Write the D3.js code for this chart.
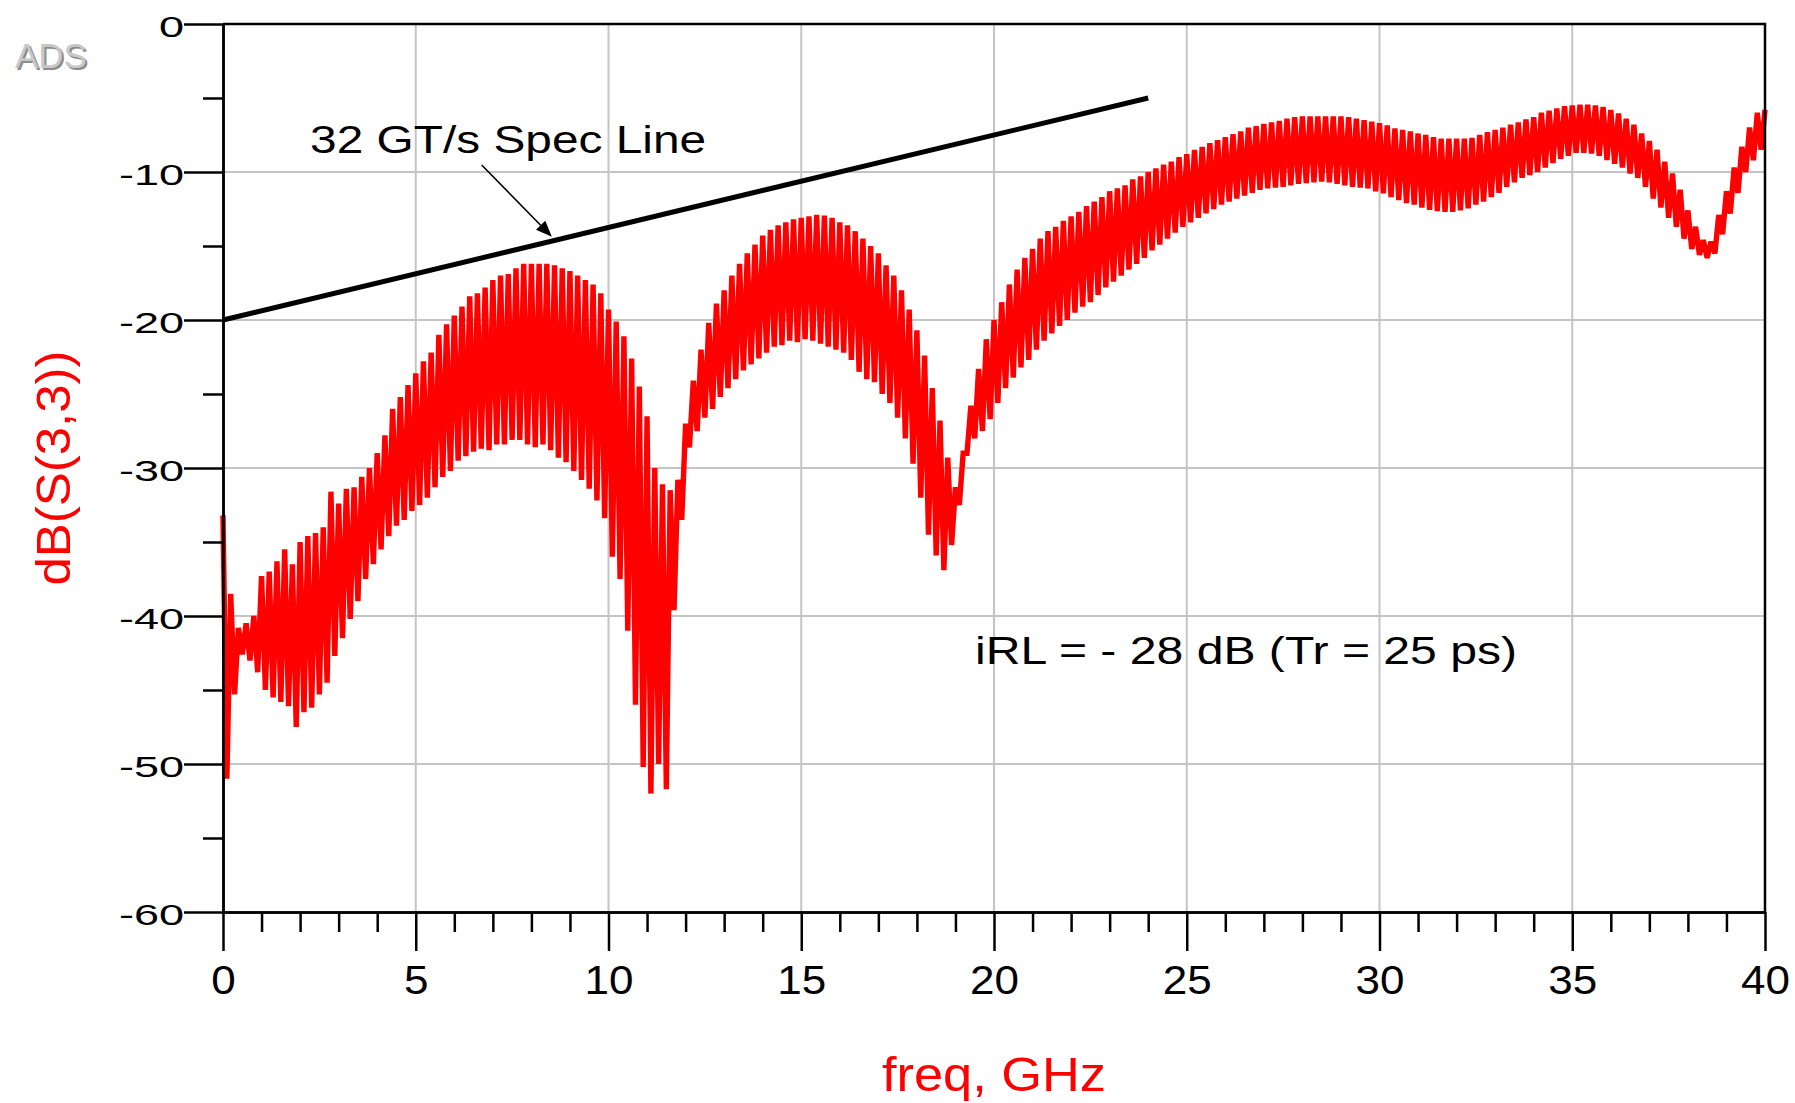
<!DOCTYPE html>
<html>
<head>
<meta charset="utf-8">
<title>dB(S(3,3))</title>
<style>
  body { margin: 0; background: #fff; }
  text { font-family: "Liberation Sans", Arial, sans-serif; }
</style>
</head>
<body>
<svg width="1795" height="1103"></svg>
<script src="https://d3js.org/d3.v7.min.js"></script>
<script>
  // ripple peaks of the trace, one every sweepStep GHz starting at 0 (dB)
  var sweepStep = 0.2;
  var peakDb = [
    -33.2, -38.5, -40.8, -40.5, -40.0,   -37.3, -37.0, -36.3, -35.5, -36.5,
    -35.0, -34.6, -34.4, -34.0, -31.6,   -32.4, -31.4, -31.3, -30.6, -30.0,
    -29.0, -27.8, -26.0, -25.2, -24.4,   -23.6, -22.8, -22.2, -21.0, -20.3,
    -19.7, -19.1, -18.4, -18.2, -17.8,   -17.3, -17.0, -16.9, -16.5, -16.2,
    -16.2, -16.2, -16.2, -16.3, -16.5,   -16.7, -17.0, -17.3, -17.6, -18.2,
    -19.3, -20.1, -21.1, -22.6, -24.5,   -26.5, -30.0, -31.1, -31.5, -30.8,
    -27.0, -24.1, -22.0, -20.2, -18.9,   -18.0, -17.0, -16.2, -15.5, -14.9,
    -14.3, -13.9, -13.6, -13.4, -13.2,   -13.1, -13.0, -12.9, -12.95, -13.1,
    -13.4, -13.6, -14.0, -14.5, -15.0,   -15.5, -16.3, -17.0, -18.0, -19.3,
    -20.7, -22.4, -24.6, -26.8, -29.3,   -31.3, -29.0, -25.8, -23.3, -21.3,
    -20.0, -18.8, -17.6, -16.6, -15.8,   -15.2, -14.5, -14.0, -13.7, -13.3,
    -13.0, -12.7, -12.3, -12.0, -11.7,   -11.3, -11.1, -10.9, -10.5, -10.3,
    -10.0, -9.75, -9.5, -9.3, -9.0,      -8.8, -8.5, -8.3, -8.05, -7.85,
    -7.65, -7.45, -7.25, -7.0, -6.9,     -6.75, -6.65, -6.55, -6.4, -6.3,
    -6.25, -6.25, -6.25, -6.25, -6.25,   -6.25, -6.3, -6.4, -6.5, -6.6,
    -6.7, -6.85, -7.05, -7.15, -7.25,    -7.4, -7.5, -7.65, -7.75, -7.75,
    -7.75, -7.75, -7.7, -7.5, -7.3,      -7.15, -7.0, -6.8, -6.65, -6.45,
    -6.3, -6.0, -5.85, -5.7, -5.55,      -5.5, -5.45, -5.45, -5.5, -5.6,
    -5.8, -6.05, -6.4, -6.8, -7.4,       -7.9, -8.5, -9.3, -10.1, -11.2,
    -12.6, -13.7, -14.6, -14.7, -12.9,   -11.3, -9.7, -8.3, -7.0, -6.0,
    -5.8
  ];
  // ripple dips, half a step after each peak (dB)
  var dipDb = [
    -51.0, -45.3, -42.6, -43.0, -43.8,   -45.0, -45.5, -45.8, -46.1, -47.5,
    -46.5, -46.2, -45.3, -44.5, -42.7,   -41.5, -40.2, -39.0, -37.5, -36.5,
    -35.5, -34.6, -33.9, -33.5, -32.9,   -32.5, -32.0, -31.3, -30.6, -30.2,
    -29.5, -29.2, -28.9, -28.7, -28.8,   -28.4, -28.4, -28.1, -28.1, -28.4,
    -28.6, -28.4, -28.8, -29.3, -29.6,   -30.2, -30.8, -31.4, -32.2, -33.4,
    -36.0, -37.5, -41.0, -46.0, -50.2,   -52.0, -50.0, -51.7, -39.6, -33.5,
    -28.6, -27.5, -26.6, -26.0, -25.2,   -24.6, -24.0, -23.4, -23.0, -22.6,
    -22.2, -21.8, -21.7, -21.4, -21.5,   -21.3, -21.4, -21.6, -21.8, -22.0,
    -22.2, -22.7, -23.5, -24.0, -24.2,   -25.0, -25.6, -26.6, -28.0, -29.7,
    -32.0, -34.5, -35.9, -36.9, -35.2,   -32.5, -29.0, -28.0, -27.5, -26.7,
    -25.6, -24.6, -23.9, -23.2, -22.7,   -22.0, -21.4, -20.9, -20.4, -20.0,
    -19.5, -19.1, -18.8, -18.3, -17.8,   -17.4, -17.0, -16.6, -16.2, -15.8,
    -15.3, -14.9, -14.5, -14.1, -13.7,   -13.4, -13.1, -12.8, -12.5, -12.2,
    -12.0, -11.8, -11.6, -11.4, -11.2,   -11.1, -11.05, -11.0, -10.9, -10.8,
    -10.75, -10.7, -10.65, -10.7, -10.8, -10.9, -11.0, -11.05, -11.1, -11.3,
    -11.45, -11.7, -11.9, -12.1, -12.2,  -12.4, -12.55, -12.65, -12.7, -12.7,
    -12.6, -12.45, -12.2, -12.0, -11.7,  -11.4, -11.0, -10.7, -10.4, -10.2,
    -10.0, -9.7, -9.4, -9.1, -8.9,       -8.7, -8.7, -8.75, -8.9, -9.2,
    -9.45, -9.7, -10.1, -10.4, -11.0,    -11.8, -12.4, -13.1, -13.7, -14.5,
    -15.2, -15.6, -15.8, -15.5, -14.2,   -12.8, -11.4, -10.0, -9.2, -8.5
  ];

  var xTicks = [0, 5, 10, 15, 20, 25, 30, 35, 40];
  var xMinor = [1, 2, 3, 4, 6, 7, 8, 9, 11, 12, 13, 14, 16, 17, 18, 19, 21, 22, 23, 24,
                26, 27, 28, 29, 31, 32, 33, 34, 36, 37, 38, 39];
  var yTicks = [0, -10, -20, -30, -40, -50, -60];
  var yMinor = [-5, -15, -25, -35, -45, -55];

  // 32 GT/s spec line and its label / arrow (data coords)
  var specLine = [{ f: 0, db: -20 }, { f: 24, db: -5 }];
  var specLabel = { f: 2.26, db: -8.74, text: "32 GT/s Spec Line" };
  var specArrow = [{ f: 6.71, db: -9.53 }, { f: 8.53, db: -14.37 }];
  var irlLabel = { f: 19.51, db: -43.25, text: "iRL = - 28 dB (Tr = 25 ps)" };

  var svg = d3.select("svg"),
    margin = { top: 24, right: 30, bottom: 191, left: 223 },
    width = +svg.attr("width") - margin.left - margin.right,
    height = +svg.attr("height") - margin.top - margin.bottom;

  var x = d3.scaleLinear().domain([0, 40]).range([margin.left, margin.left + width]);
  var y = d3.scaleLinear().domain([-60, 0]).range([margin.top + height, margin.top]);

  // grid
  var grid = svg.append("g").attr("stroke", "#c4c4c4").attr("stroke-width", 2);
  grid.selectAll(".gx")
    .data(xTicks.slice(1, -1))
    .enter().append("line")
    .attr("x1", function (d) { return x(d); }).attr("x2", function (d) { return x(d); })
    .attr("y1", y(0)).attr("y2", y(-60));
  grid.selectAll(".gy")
    .data(yTicks.slice(1, -1))
    .enter().append("line")
    .attr("y1", function (d) { return y(d); }).attr("y2", function (d) { return y(d); })
    .attr("x1", x(0)).attr("x2", x(40));

  // the trace: peak, dip, peak, dip ...
  var trace = [];
  peakDb.forEach(function (v, i) {
    trace.push({ f: i * sweepStep, db: v });
    if (i < dipDb.length) trace.push({ f: i * sweepStep + sweepStep / 2, db: dipDb[i] });
  });

  var line = d3.line()
    .x(function (d) { return x(d.f); })
    .y(function (d) { return y(d.db); });

  svg.append("path")
    .datum(trace)
    .attr("fill", "none")
    .attr("stroke", "#ff0000")
    .attr("stroke-width", 5.4)
    .attr("stroke-miterlimit", 2)
    .attr("d", line);

  // frame (top and right)
  svg.append("path")
    .attr("fill", "none")
    .attr("stroke", "#000")
    .attr("stroke-width", 2.5)
    .attr("d", "M" + x(0) + "," + y(0) + "H" + x(40) + "V" + y(-60));

  // x axis
  var xAxisG = svg.append("g").attr("transform", "translate(0," + y(-60) + ")");
  xAxisG.append("g")
    .call(d3.axisBottom(x).tickValues(xMinor).tickSize(20).tickSizeOuter(0).tickFormat(""));
  var xMajor = xAxisG.append("g")
    .call(d3.axisBottom(x).tickValues(xTicks).tickSize(39).tickSizeOuter(0)
      .tickFormat(function (d) { return String(d); }));
  xMajor.selectAll("text")
    .attr("y", 82).attr("dy", null)
    .attr("transform", "scale(1.1,1)")
    .style("font-size", "40px")
    .attr("fill", "#000");

  // y axis (plain hyphen for the minus sign)
  var yAxisG = svg.append("g").attr("transform", "translate(" + x(0) + ",0)");
  yAxisG.append("g")
    .call(d3.axisLeft(y).tickValues(yMinor).tickSize(20).tickSizeOuter(0).tickFormat(""));
  var yMajor = yAxisG.append("g")
    .call(d3.axisLeft(y).tickValues(yTicks).tickSize(39).tickSizeOuter(0)
      .tickFormat(function (d) { return String(d); }));
  yMajor.selectAll("text")
    .attr("x", 0).attr("dy", "0.43em")
    .attr("transform", "translate(-39,0) scale(1.5,1)")
    .style("font-size", "30px")
    .attr("fill", "#000");

  svg.selectAll(".domain, .tick line")
    .attr("stroke", "#000")
    .attr("stroke-width", 2.5);
  svg.selectAll(".tick text").style("font-family", "'Liberation Sans', Arial, sans-serif");

  // axis titles
  svg.append("text")
    .attr("x", x(20))
    .attr("y", 1091)
    .attr("text-anchor", "middle")
    .attr("textLength", 224)
    .attr("lengthAdjust", "spacingAndGlyphs")
    .style("font-size", "48px")
    .attr("fill", "#ff0000")
    .text("freq, GHz");

  svg.append("text")
    .attr("transform", "translate(70," + y(-30) + ") rotate(-90)")
    .attr("text-anchor", "middle")
    .attr("textLength", 235)
    .attr("lengthAdjust", "spacingAndGlyphs")
    .style("font-size", "48px")
    .attr("fill", "#ff0000")
    .text("dB(S(3,3))");

  // spec line
  svg.append("path")
    .datum(specLine)
    .attr("fill", "none")
    .attr("stroke", "#000")
    .attr("stroke-width", 5)
    .attr("d", line);

  // arrow to the spec line
  var a0 = [x(specArrow[0].f), y(specArrow[0].db)],
    a1 = [x(specArrow[1].f), y(specArrow[1].db)],
    ang = Math.atan2(a1[1] - a0[1], a1[0] - a0[0]),
    headLen = 16, headW = 6.5,
    bx = a1[0] - headLen * Math.cos(ang), by = a1[1] - headLen * Math.sin(ang);
  svg.append("line")
    .attr("x1", a0[0]).attr("y1", a0[1])
    .attr("x2", bx).attr("y2", by)
    .attr("stroke", "#000").attr("stroke-width", 1.6);
  svg.append("path")
    .attr("fill", "#000")
    .attr("d", "M" + a1[0] + "," + a1[1] +
      "L" + (bx + headW * Math.sin(ang)) + "," + (by - headW * Math.cos(ang)) +
      "L" + (bx - headW * Math.sin(ang)) + "," + (by + headW * Math.cos(ang)) + "Z");

  // annotations
  svg.append("text")
    .attr("x", x(specLabel.f))
    .attr("y", y(specLabel.db))
    .attr("textLength", 396)
    .attr("lengthAdjust", "spacingAndGlyphs")
    .style("font-size", "38px")
    .attr("fill", "#000")
    .text(specLabel.text);

  svg.append("text")
    .attr("x", x(irlLabel.f))
    .attr("y", y(irlLabel.db))
    .attr("textLength", 542)
    .attr("lengthAdjust", "spacingAndGlyphs")
    .style("font-size", "38px")
    .attr("fill", "#000")
    .text(irlLabel.text);

  // ADS logo
  svg.append("text")
    .attr("x", 17).attr("y", 70)
    .style("font-size", "35px")
    .attr("fill", "#8c8c8c")
    .text("ADS");
  svg.append("text")
    .attr("x", 15).attr("y", 68)
    .style("font-size", "35px")
    .attr("fill", "#c8c8c8")
    .text("ADS");
</script>
</body>
</html>
